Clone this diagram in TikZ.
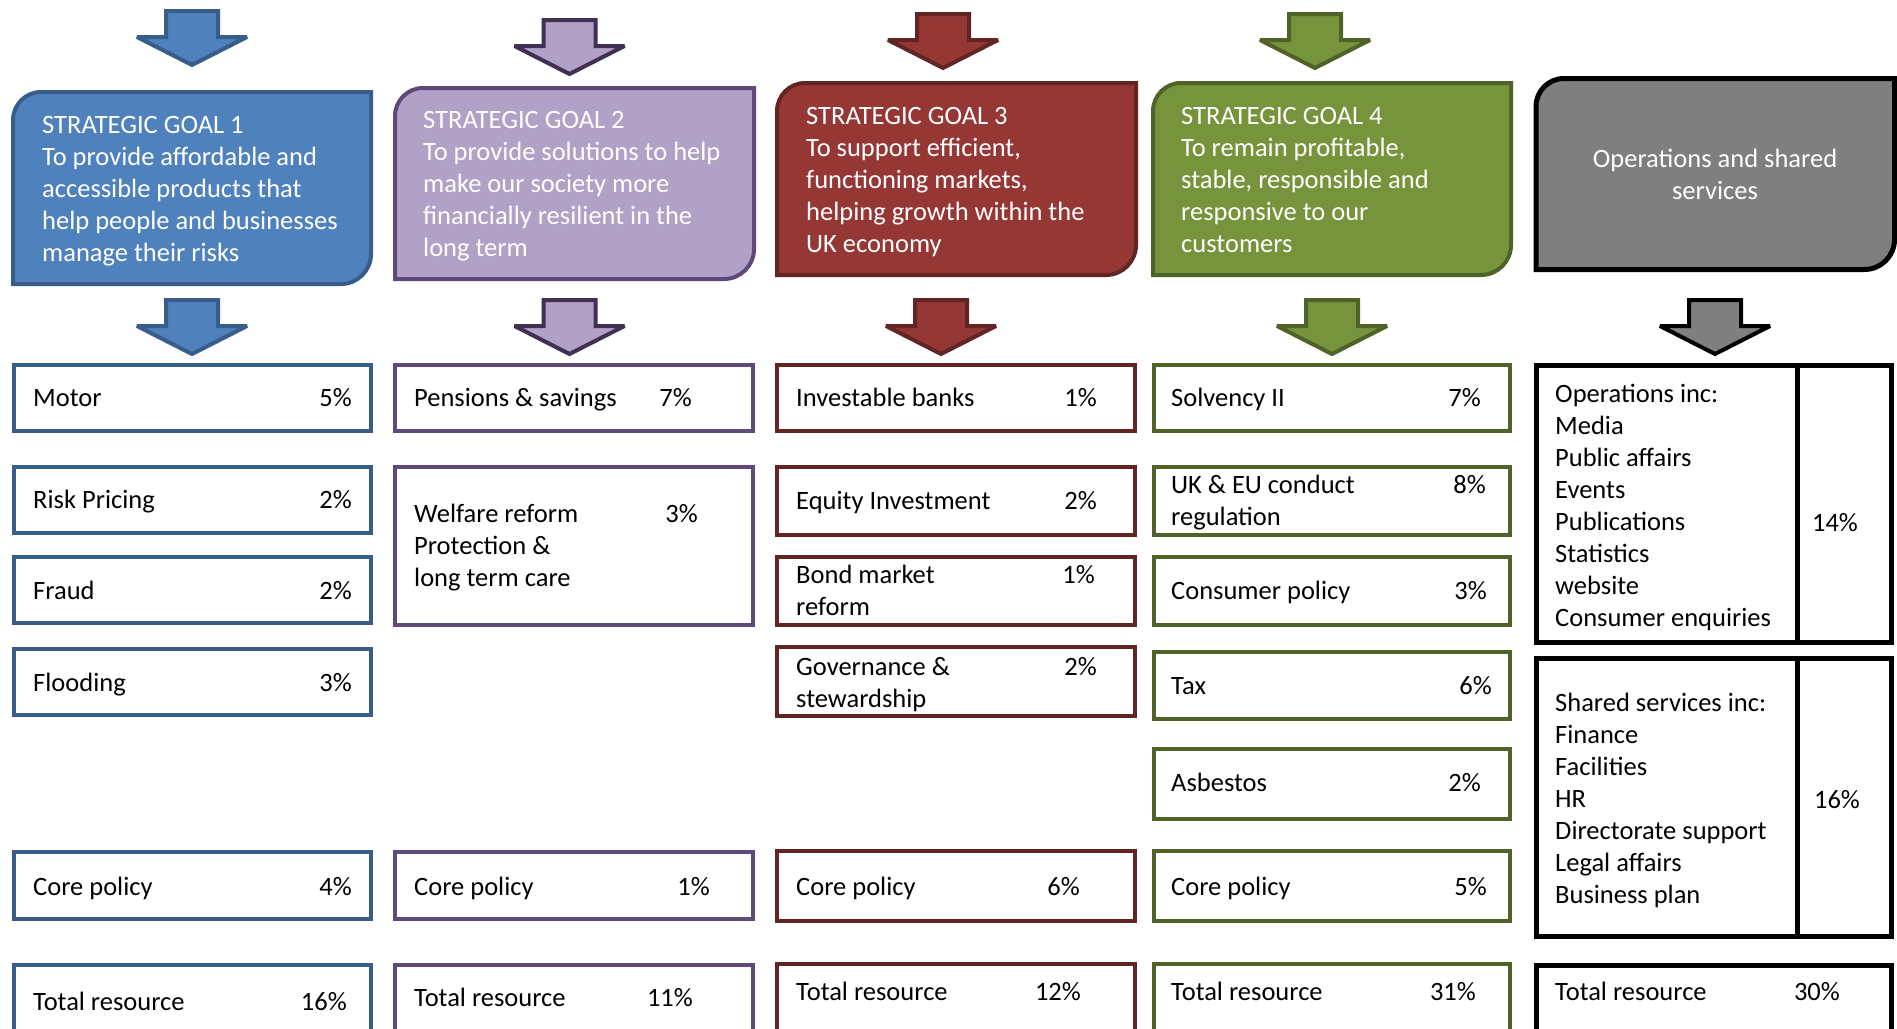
\documentclass[tikz,border=0pt]{standalone}
\usepackage{fontspec}
\setmainfont{Carlito}
\usetikzlibrary{fit}

\definecolor{blueF}{HTML}{4F81BD}
\definecolor{blueD}{HTML}{385D8A}
\definecolor{lilaF}{HTML}{B2A1C7}
\definecolor{lilaD}{HTML}{5F497A}
\definecolor{lilaA}{HTML}{403152}
\definecolor{redF}{HTML}{953735}
\definecolor{redD}{HTML}{632523}
\definecolor{greenF}{HTML}{77933C}
\definecolor{greenD}{HTML}{4F6228}
\definecolor{greyF}{HTML}{7F7F7F}

\tikzset{
  txt/.style={inner sep=0pt, font=\fontsize{26.5}{32}\selectfont, align=left},
  wtxt/.style={txt, text=white},
  frame/.style={inner sep=0pt, line width=4pt, fill=white},
  bluebox/.style={frame, draw=blueD},
  lilabox/.style={frame, draw=lilaD},
  redbox/.style={frame, draw=redD},
  greenbox/.style={frame, draw=greenD},
  blackbox/.style={frame, draw=black, line width=5pt},
  blockarrow/.pic={
    \path[pic actions] (-26,-2) -- (26,-2) -- (26,-28) -- (55,-28)
      -- (0,-56) -- (-55,-28) -- (-26,-28) -- cycle;
  },
  arrowstyle/.style={line width=4pt, line join=miter, miter limit=3},
}

% goal panel: rounded top-left and bottom-right corners
% #1 style, #2 left, #3 top, #4 right, #5 bottom (y measured downwards)
\newcommand\goalpanel[5]{%
  \draw[#1] (#2,-#5) -- (#2,-#3-28) arc[start angle=180, end angle=90, radius=28pt]
    -- (#4,-#3) -- (#4,-#5+30) arc[start angle=0, end angle=-90, radius=30pt] -- cycle;}

% multi-line text nodes are placed by the baseline of their last line
\begin{document}
\begin{tikzpicture}[x=1pt, y=1pt]
\clip (0,0) rectangle (1897,-1028);
\fill[white] (0,0) rectangle (1897,-1028);

% ---------- arrows into the goal panels ----------
\pic[arrowstyle, fill=blueF, draw=blueD] (a1) at (192,-9) {blockarrow};
\pic[arrowstyle, fill=lilaF, draw=lilaA] (a2) at (569.5,-18) {blockarrow};
\pic[arrowstyle, fill=redF, draw=redD] (a3) at (943,-12) {blockarrow};
\pic[arrowstyle, fill=greenF, draw=greenD] (a4) at (1315,-12) {blockarrow};

% ---------- goal panels ----------
\goalpanel{fill=blueF, draw=blueD, line width=4pt}{13}{92}{371}{284}
\goalpanel{fill=lilaF, draw=lilaD, line width=4pt}{395}{88}{754}{279}
\goalpanel{fill=redF, draw=redD, line width=4pt}{777}{83}{1136}{275}
\goalpanel{fill=greenF, draw=greenD, line width=4pt}{1153}{83}{1511}{275}
\goalpanel{fill=greyF, draw=black, line width=5pt}{1536}{78.5}{1894.5}{269.5}

\node[wtxt, anchor=base west] (g1) at (42,-261)
  {STRATEGIC GOAL 1\\To provide affordable and\\accessible products that\\help people and businesses\\manage their risks};
\node[wtxt, anchor=base west] (g2) at (423,-256)
  {STRATEGIC GOAL 2\\To provide solutions to help\\make our society more\\financially resilient in the\\long term};
\node[wtxt, anchor=base west] (g3) at (806,-252)
  {STRATEGIC GOAL 3\\To support efficient,\\functioning markets,\\helping growth within the\\UK economy};
\node[wtxt, anchor=base west] (g4) at (1181,-252)
  {STRATEGIC GOAL 4\\To remain profitable,\\stable, responsible and\\responsive to our\\customers};
\node[wtxt, align=center, anchor=base] (g5) at (1715,-199)
  {Operations and shared\\services};

% ---------- arrows out of the goal panels ----------
\pic[arrowstyle, fill=blueF, draw=blueD] (b1) at (192,-298) {blockarrow};
\pic[arrowstyle, fill=lilaF, draw=lilaA] (b2) at (569.5,-298) {blockarrow};
\pic[arrowstyle, fill=redF, draw=redD] (b3) at (941,-298) {blockarrow};
\pic[arrowstyle, fill=greenF, draw=greenD] (b4) at (1332,-298) {blockarrow};
\pic[arrowstyle, fill=greyF, draw=black] (b5) at (1715,-298) {blockarrow};

% ---------- column 1 ----------
\node[bluebox, fit={(14,-365) (371,-431)}] (c1a) {};
\node[bluebox, fit={(14,-467) (371,-533)}] (c1b) {};
\node[bluebox, fit={(14,-557) (371,-623)}] (c1c) {};
\node[bluebox, fit={(14,-649) (371,-715)}] (c1d) {};
\node[bluebox, fit={(14,-852) (371,-919)}] (c1e) {};
\node[bluebox, fit={(14,-965) (371,-1060)}] (c1f) {};
\node[txt, anchor=base west] (c1at) at (33,-406.5) {Motor};
\node[txt, anchor=base east] (c1ap) at (352,-406.5) {5\%};
\node[txt, anchor=base west] (c1bt) at (33,-508.5) {Risk Pricing};
\node[txt, anchor=base east] (c1bp) at (352,-508.5) {2\%};
\node[txt, anchor=base west] (c1ct) at (33,-599) {Fraud};
\node[txt, anchor=base east] (c1cp) at (352,-599) {2\%};
\node[txt, anchor=base west] (c1dt) at (33,-691) {Flooding};
\node[txt, anchor=base east] (c1dp) at (352,-691) {3\%};
\node[txt, anchor=base west] (c1et) at (33,-895) {Core policy};
\node[txt, anchor=base east] (c1ep) at (352,-895) {4\%};
\node[txt, anchor=base west] (c1ft) at (33,-1010) {Total resource};
\node[txt, anchor=base east] (c1fp) at (347,-1010) {16\%};

% ---------- column 2 ----------
\node[lilabox, fit={(395,-365) (753,-431)}] (c2a) {};
\node[lilabox, fit={(395,-467) (753,-625)}] (c2b) {};
\node[lilabox, fit={(395,-852) (753,-919)}] (c2e) {};
\node[lilabox, fit={(395,-965) (753,-1060)}] (c2f) {};
\node[txt, anchor=base west] (c2at) at (414,-406.5) {Pensions \& savings};
\node[txt, anchor=base east] (c2ap) at (692,-406.5) {7\%};
\node[txt, anchor=base west] (c2bt) at (414,-586) {Welfare reform\\Protection \&\\long term care};
\node[txt, anchor=base east] (c2bp) at (698,-522) {3\%};
\node[txt, anchor=base west] (c2et) at (414,-895) {Core policy};
\node[txt, anchor=base east] (c2ep) at (710,-895) {1\%};
\node[txt, anchor=base west] (c2ft) at (414,-1006) {Total resource};
\node[txt, anchor=base east] (c2fp) at (693,-1006) {11\%};

% ---------- column 3 ----------
\node[redbox, fit={(777,-365) (1135,-431)}] (c3a) {};
\node[redbox, fit={(777,-467) (1135,-535)}] (c3b) {};
\node[redbox, fit={(777,-557) (1135,-625)}] (c3c) {};
\node[redbox, fit={(777,-647) (1135,-716)}] (c3d) {};
\node[redbox, fit={(777,-851) (1135,-921)}] (c3e) {};
\node[redbox, fit={(777,-964) (1135,-1060)}] (c3f) {};
\node[txt, anchor=base west] (c3at) at (796,-406.5) {Investable banks};
\node[txt, anchor=base east] (c3ap) at (1097,-406.5) {1\%};
\node[txt, anchor=base west] (c3bt) at (796,-509) {Equity Investment};
\node[txt, anchor=base east] (c3bp) at (1097,-509) {2\%};
\node[txt, anchor=base west] (c3ct) at (796,-615) {Bond market\\reform};
\node[txt, anchor=base east] (c3cp) at (1095,-583) {1\%};
\node[txt, anchor=base west] (c3dt) at (796,-707) {Governance \&\\stewardship};
\node[txt, anchor=base east] (c3dp) at (1097,-675) {2\%};
\node[txt, anchor=base west] (c3et) at (796,-895) {Core policy};
\node[txt, anchor=base east] (c3ep) at (1080,-895) {6\%};
\node[txt, anchor=base west] (c3ft) at (796,-1000) {Total resource};
\node[txt, anchor=base east] (c3fp) at (1081,-1000) {12\%};

% ---------- column 4 ----------
\node[greenbox, fit={(1154,-365) (1510,-431)}] (c4a) {};
\node[greenbox, fit={(1154,-467) (1510,-535)}] (c4b) {};
\node[greenbox, fit={(1154,-557) (1510,-625)}] (c4c) {};
\node[greenbox, fit={(1154,-652) (1510,-719)}] (c4d) {};
\node[greenbox, fit={(1154,-749) (1510,-819)}] (c4g) {};
\node[greenbox, fit={(1154,-851) (1510,-921)}] (c4e) {};
\node[greenbox, fit={(1154,-964) (1510,-1060)}] (c4f) {};
\node[txt, anchor=base west] (c4at) at (1171,-406.5) {Solvency II};
\node[txt, anchor=base east] (c4ap) at (1481,-406.5) {7\%};
\node[txt, anchor=base west] (c4bt) at (1171,-525) {UK \& EU conduct\\regulation};
\node[txt, anchor=base east] (c4bp) at (1486,-493) {8\%};
\node[txt, anchor=base west] (c4ct) at (1171,-599) {Consumer policy};
\node[txt, anchor=base east] (c4cp) at (1487,-599) {3\%};
\node[txt, anchor=base west] (c4dt) at (1171,-694) {Tax};
\node[txt, anchor=base east] (c4dp) at (1492,-694) {6\%};
\node[txt, anchor=base west] (c4gt) at (1171,-791.5) {Asbestos};
\node[txt, anchor=base east] (c4gp) at (1481,-791.5) {2\%};
\node[txt, anchor=base west] (c4et) at (1171,-895) {Core policy};
\node[txt, anchor=base east] (c4ep) at (1487,-895) {5\%};
\node[txt, anchor=base west] (c4ft) at (1171,-1000) {Total resource};
\node[txt, anchor=base east] (c4fp) at (1476,-1000) {31\%};

% ---------- column 5 ----------
\node[blackbox, fit={(1536.5,-365.5) (1891,-642.5)}] (c5a) {};
\node[blackbox, fit={(1536.5,-658.5) (1891,-936.5)}] (c5b) {};
\node[blackbox, fit={(1536.5,-965.5) (1891,-1060)}] (c5f) {};
\draw[line width=5pt] (c5a.north -| 1797,0) -- (c5a.south -| 1797,0);
\draw[line width=5pt] (c5b.north -| 1797,0) -- (c5b.south -| 1797,0);
\node[txt, anchor=base west] (c5at) at (1555,-626)
  {Operations inc:\\Media\\Public affairs\\Events\\Publications\\Statistics\\website\\Consumer enquiries};
\node[txt, anchor=base] (c5ap) at (1835,-531) {14\%};
\node[txt, anchor=base west] (c5bt) at (1555,-903)
  {Shared services inc:\\Finance\\Facilities\\HR\\Directorate support\\Legal affairs\\Business plan};
\node[txt, anchor=base] (c5bp) at (1837,-808.5) {16\%};
\node[txt, anchor=base west] (c5ft) at (1555,-1000) {Total resource};
\node[txt, anchor=base east] (c5fp) at (1840,-1000) {30\%};
\end{tikzpicture}
\end{document}
